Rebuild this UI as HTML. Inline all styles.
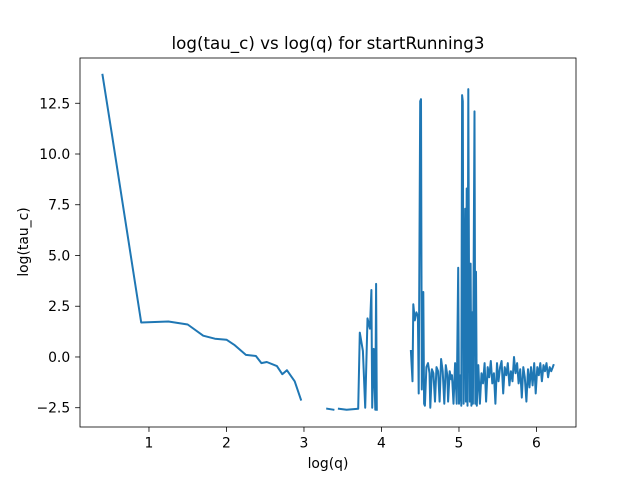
<!DOCTYPE html>
<html><head><meta charset="utf-8"><style>
body{margin:0;background:#fff}
svg text{font-family:"DejaVu Sans","Liberation Sans",sans-serif;fill:#000}
</style></head><body>
<svg width="640" height="480" id="c">
<rect x="0" y="0" width="640" height="480" fill="#fff"/>
<text x="328" y="49" font-size="16.7" text-anchor="middle">log(tau_c) vs log(q) for startRunning3</text>
<text x="328" y="468" font-size="13.9" text-anchor="middle">log(q)</text>
<text x="0" y="0" font-size="13.9" text-anchor="middle" transform="translate(28,242) rotate(-90)">log(tau_c)</text>
<g id="ticks"></g>
<path id="line" fill="none" stroke="#1f77b4" stroke-width="2" stroke-linejoin="round" stroke-linecap="square"/>
<rect x="80" y="58" width="496" height="369" fill="none" stroke="#000" stroke-width="0.8"/>
</svg>
<script>
const xTicks=[1,2,3,4,5,6];
const yTicks=[-2.5,0,2.5,5,7.5,10,12.5];
const yTickLabels=["−2.5","0.0","2.5","5.0","7.5","10.0","12.5"];
const xs=[0.4,0.52,0.9,1.25,1.5,1.7,1.85,2.0,2.1,2.25,2.38,2.45,2.52,2.65,2.72,2.78,2.88,2.96,null,
3.3,3.38,null,3.45,3.55,3.7,3.72,3.76,3.79,3.82,3.85,3.87,3.88,3.9,3.92,3.93,3.94,null,
4.38,4.40,4.41,4.43,4.45,4.47,4.48,4.50,4.51,4.52,4.53,4.54,4.55,4.56,4.58,4.60,4.62,4.63,4.65,4.67,4.69,4.71,4.73,4.75,4.77,4.79,4.81,4.83,4.85,4.86,4.88,4.90,4.91,4.93,4.95,4.97,4.99,5.00,5.02,5.03,5.04,5.05,5.06,5.08,5.09,5.10,5.11,5.12,5.13,5.14,5.15,5.16,5.17,5.18,5.20,5.21,5.22,5.23,5.25,5.27,5.29,5.31,5.33,5.35,5.37,5.39,5.41,5.43,5.45,5.47,5.49,5.51,5.53,5.55,5.57,5.59,5.61,5.63,5.65,5.67,5.69,5.71,5.73,5.75,5.77,5.79,5.81,5.83,5.85,5.87,5.89,5.91,5.93,5.95,5.97,5.99,6.01,6.03,6.05,6.07,6.09,6.11,6.13,6.15,6.17,6.19,6.21,6.22];
const ys=[13.9,11.0,1.7,1.75,1.6,1.05,0.9,0.85,0.6,0.1,0.05,-0.3,-0.25,-0.45,-0.85,-0.65,-1.2,-2.1,null,
-2.55,-2.6,null,-2.55,-2.6,-2.55,1.2,0.3,-2.5,1.9,1.4,3.3,-2.5,0.4,-2.6,3.6,-2.6,null,
0.3,-1.2,2.6,1.8,2.2,2.0,-1.8,12.6,12.7,-1.6,0.9,3.2,-2.3,-2.4,-0.5,-0.3,-0.8,-2.5,-0.6,-0.8,-2.2,-0.5,-0.7,-2.2,-0.1,-0.7,-2.3,-0.4,-0.9,-2.2,-0.7,-1.1,-0.9,-2.3,-0.3,-2.3,4.4,-2.3,-0.9,-2.4,12.9,12.6,-2.3,7.3,-2.2,8.3,-2.4,13.2,2.6,-2.2,4.6,-2.4,2.2,-2.3,12.1,-2.3,4.2,-2.4,-0.4,-2.3,-0.8,-1.3,-0.3,-2.2,-0.5,-1.0,-0.2,-1.3,-0.8,-2.3,-0.3,-1.2,-0.5,-0.2,-1.8,-0.5,-0.9,-0.3,-1.4,-0.7,-1.2,0.0,-0.8,-0.3,-1.3,-0.6,-2.0,-0.5,-1.0,-2.2,-0.6,-1.5,-0.5,-1.4,-0.3,-1.8,-0.5,-0.9,-0.3,-1.2,-0.4,-0.7,-0.3,-1.0,-0.5,-0.7,-0.5,-0.4];
const X0=80,X1=576,Y0=58,Y1=427,xmin=0.11,xmax=6.51,ymin=-3.45,ymax=14.73;
const sx=v=>X0+(v-xmin)/(xmax-xmin)*(X1-X0);
const sy=v=>Y1-(v-ymin)/(ymax-ymin)*(Y1-Y0);
const NS="http://www.w3.org/2000/svg";
const g=document.getElementById('ticks');
xTicks.forEach(t=>{
 const l=document.createElementNS(NS,'line');
 l.setAttribute('x1',sx(t));l.setAttribute('x2',sx(t));l.setAttribute('y1',Y1);l.setAttribute('y2',Y1+4.9);l.setAttribute('stroke','#000');l.setAttribute('stroke-width','0.8');
 
 
 g.appendChild(l);
 const tx=document.createElementNS(NS,'text');
 tx.setAttribute('x',sx(t));tx.setAttribute('y',Y1+20.5);tx.setAttribute('font-size','13.9');tx.setAttribute('text-anchor','middle');tx.textContent=String(t);
 
 
 g.appendChild(tx);
});
yTicks.forEach((t,i)=>{
 const l=document.createElementNS(NS,'line');
 l.setAttribute('x1',X0-4.9);l.setAttribute('x2',X0);l.setAttribute('y1',sy(t));l.setAttribute('y2',sy(t));l.setAttribute('stroke','#000');l.setAttribute('stroke-width','0.8');
 
 
 g.appendChild(l);
 const tx=document.createElementNS(NS,'text');
 tx.setAttribute('x',X0-9.8);tx.setAttribute('y',sy(t)+5);tx.setAttribute('font-size','13.9');tx.setAttribute('text-anchor','end');tx.textContent=yTickLabels[i];
 
 
 g.appendChild(tx);
});
let d='',pen=false;
for(let i=0;i<xs.length;i++){
 if(xs[i]===null||ys[i]===null){pen=false;continue;}
 d+=(pen?'L':'M')+sx(xs[i]).toFixed(1)+','+sy(ys[i]).toFixed(1);pen=true;
}
document.getElementById('line').setAttribute('d',d);
</script>
</body></html>
